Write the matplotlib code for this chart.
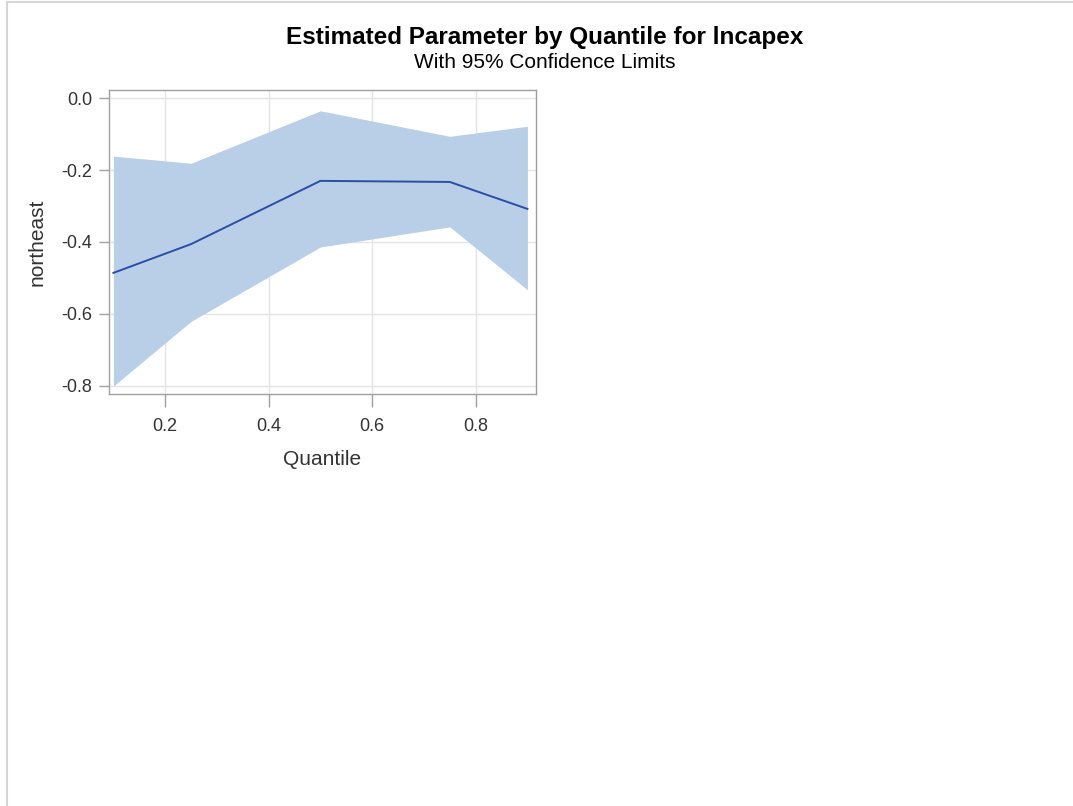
import matplotlib
matplotlib.use("Agg")
import matplotlib.pyplot as plt
from matplotlib.lines import Line2D

plt.rcParams['font.family'] = ['Liberation Sans', 'DejaVu Sans']

# values
quantile = [0.10, 0.25, 0.50, 0.75, 0.90]
estimate = [-0.486, -0.406, -0.230, -0.233, -0.308]
upper = [-0.161, -0.181, -0.035, -0.106, -0.078]
lower = [-0.801, -0.621, -0.414, -0.358, -0.533]
xticks = [0.2, 0.4, 0.6, 0.8]
yticks = [0.0, -0.2, -0.4, -0.6, -0.8]

fig = plt.figure(figsize=(10.73, 8.06), dpi=100)
ax = fig.add_axes([0.1016, 0.5112, 0.3979, 0.3772])

ax.fill_between(quantile, lower, upper, color='#B9CFE7', linewidth=0, zorder=2)
ax.plot(quantile, estimate, color='#2A4EA6', linewidth=1.4, zorder=3)

ax.set_xlim(0.0915, 0.9165)
ax.set_ylim(-0.823, 0.023)
ax.set_xticks(xticks)
ax.set_yticks(yticks)
ax.set_xticklabels(['%.1f' % v for v in xticks])
ax.set_yticklabels(['%.1f' % v for v in yticks])
ax.grid(True, color='#E4E4E4', linewidth=1.0, zorder=0)
ax.set_axisbelow(True)
for s in ax.spines.values():
    s.set_color('#A0A0A0')
    s.set_linewidth(1.0)
ax.tick_params(direction='out', width=1, color='#A0A0A0',
               labelsize=13, labelcolor='#333333')
ax.tick_params(axis='x', length=9, pad=8)
ax.tick_params(axis='y', length=7, pad=5)

ax.set_xlabel('Quantile', fontsize=15, color='#333333', va='center')
ax.set_ylabel('northeast', fontsize=15, color='#333333', va='center')
ax.xaxis.set_label_coords(0.5, -0.215)
ax.yaxis.set_label_coords(-0.168, 0.5)

fig.text(0.5075, 0.953, 'Estimated Parameter by Quantile for lncapex',
         ha='center', va='center', fontsize=17.5, fontweight='bold')
fig.text(0.5075, 0.922, 'With 95% Confidence Limits',
         ha='center', va='center', fontsize=15)

# light frame at top and left edge
fig.add_artist(Line2D([0.0065, 1.0], [0.9969, 0.9969], color='#D6D6D6', linewidth=1.5))
fig.add_artist(Line2D([0.0065, 0.0065], [0.0, 0.9969], color='#D6D6D6', linewidth=1.5))

fig.savefig('out.png', dpi=100)
